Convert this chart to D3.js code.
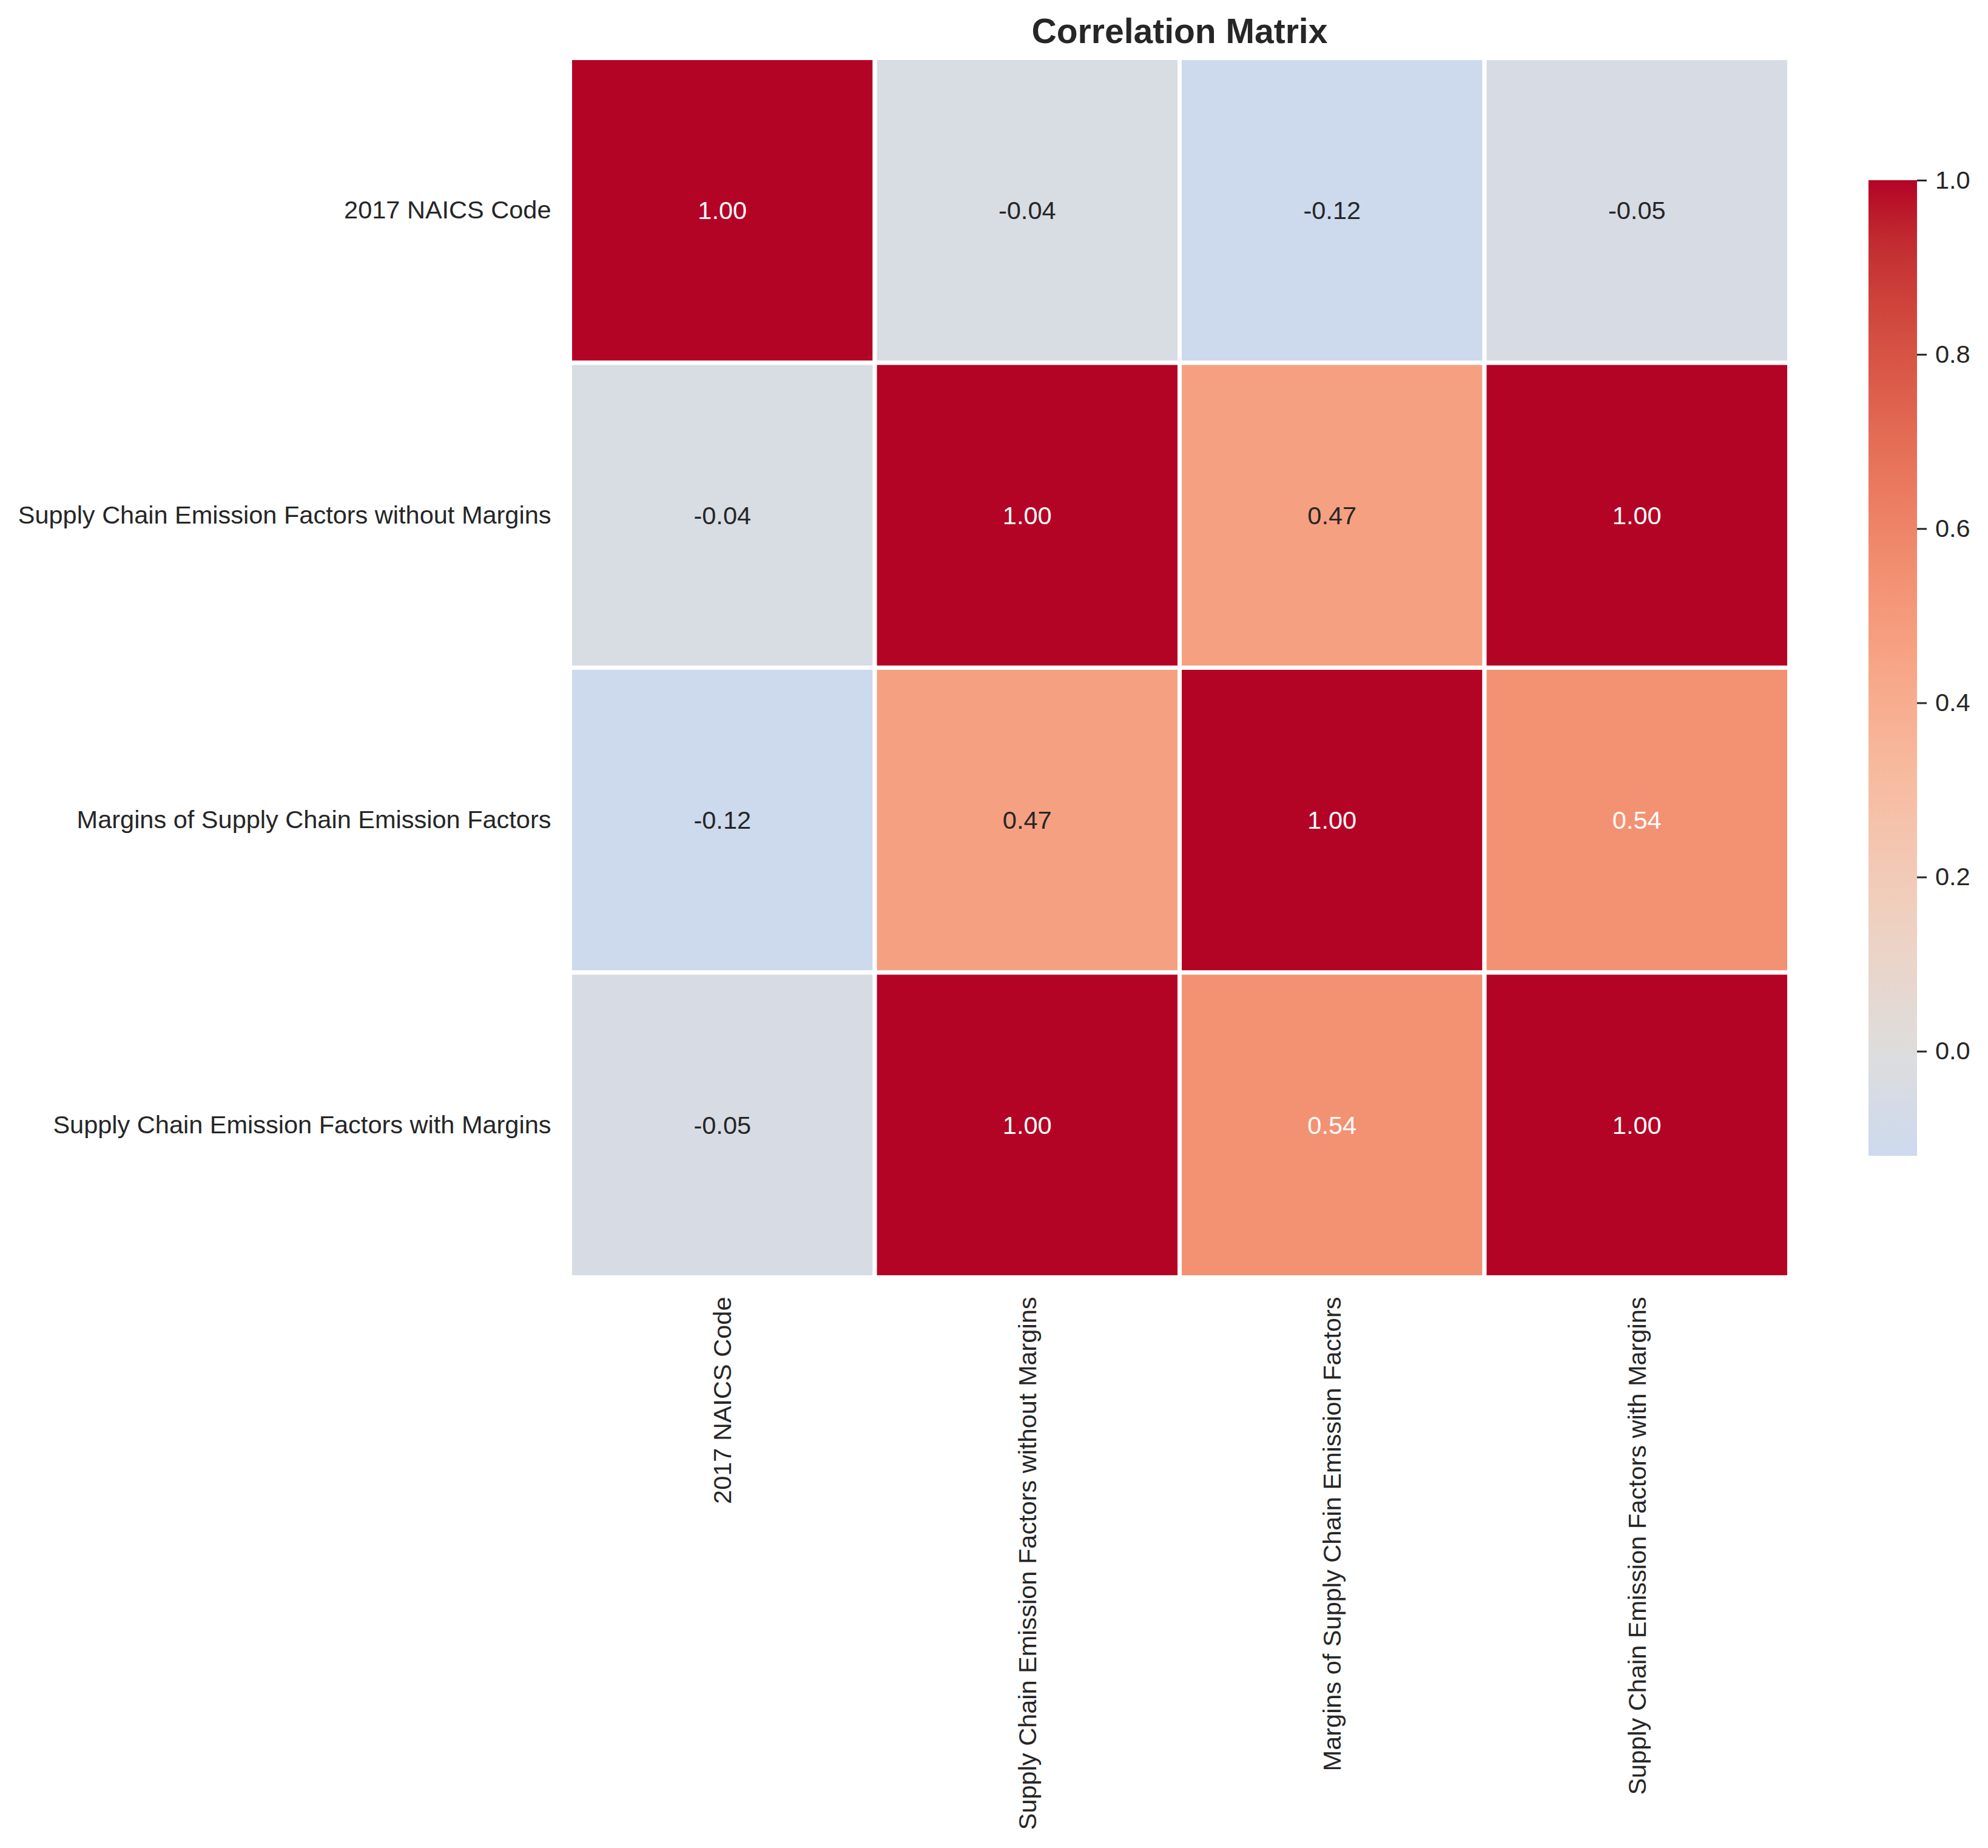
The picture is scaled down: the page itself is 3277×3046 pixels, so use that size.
<!DOCTYPE html>
<html>
<head>
<meta charset="utf-8">
<script src="https://cdn.jsdelivr.net/npm/d3@7"></script>
<style>
  body { margin: 0; background: #fff; }
  text { font-family: "Liberation Sans", Arial, sans-serif; }
</style>
</head>
<body>
<svg id="chart"></svg>
<script>
// variables of the correlation matrix
const labels = [
    '2017 NAICS Code',
    'Supply Chain Emission Factors without Margins',
    'Margins of Supply Chain Emission Factors',
    'Supply Chain Emission Factors with Margins'
];

// correlation rows, same order as labels
const rowNaics   = [1.00, -0.04, -0.12, -0.05];
const rowWithout = [-0.04, 1.00, 0.47, 1.00];
const rowMargins = [-0.12, 0.47, 1.00, 0.54];
const rowWith    = [-0.05, 1.00, 0.54, 1.00];
const matrix = [rowNaics, rowWithout, rowMargins, rowWith];

const cbarTicks = [0.0, 0.2, 0.4, 0.6, 0.8, 1.0];

// matplotlib coolwarm (Moreland table, 33 steps)
const coolwarm = [
    [59,76,192],[68,90,204],[77,104,215],[87,117,225],[98,130,234],[108,142,241],
    [119,154,247],[130,165,251],[141,176,254],[152,185,255],[163,194,255],[174,201,253],
    [184,208,249],[194,213,244],[204,217,238],[213,219,230],[221,221,221],[229,216,209],
    [236,211,197],[241,204,185],[245,196,173],[247,187,160],[247,177,148],[247,166,135],
    [244,154,123],[241,141,111],[236,127,99],[229,112,88],[222,96,77],[213,80,66],
    [203,62,56],[192,40,47],[180,4,38]
];

function cmap(t) {
    t = Math.max(0, Math.min(1, t));
    const p = t * (coolwarm.length - 1);
    const i = Math.min(Math.floor(p), coolwarm.length - 2);
    const f = p - i;
    const a = coolwarm[i], b = coolwarm[i + 1];
    return d3.rgb(a[0] + (b[0] - a[0]) * f, a[1] + (b[1] - a[1]) * f, a[2] + (b[2] - a[2]) * f);
}

// centered at 0 like seaborn center=0
const cells = [];
matrix.forEach((row, i) => row.forEach((v, j) => cells.push({ row: labels[i], col: labels[j], value: v })));
const vmin = d3.min(cells, d => d.value);
const vmax = d3.max(cells, d => d.value);
const half = Math.max(vmax - 0, 0 - vmin);
const color = v => cmap((v + half) / (2 * half));

function luminance(c) {
    const ch = [c.r, c.g, c.b].map(x => {
        x /= 255;
        return x <= 0.03928 ? x / 12.92 : Math.pow((x + 0.055) / 1.055, 2.4);
    });
    return 0.2126 * ch[0] + 0.7152 * ch[1] + 0.0722 * ch[2];
}

const width = 3277;
const height = 3046;
const fontSize = 41.5;
const svg = d3.select('#chart').attr('width', width).attr('height', height);

const x = d3.scaleBand().domain(labels).range([939.5, 2949.5]);
const y = d3.scaleBand().domain(labels).range([95.5, 2105.5]);

// cells
svg.append('g')
    .selectAll('rect')
    .data(cells)
    .enter().append('rect')
    .attr('x', d => x(d.col))
    .attr('y', d => y(d.row))
    .attr('width', x.bandwidth())
    .attr('height', y.bandwidth())
    .attr('fill', d => color(d.value))
    .attr('stroke', '#fff')
    .attr('stroke-width', 7);

// annotations
svg.append('g')
    .selectAll('text')
    .data(cells)
    .enter().append('text')
    .attr('x', d => x(d.col) + x.bandwidth() / 2)
    .attr('y', d => y(d.row) + y.bandwidth() / 2)
    .attr('dy', '0.35em')
    .attr('text-anchor', 'middle')
    .attr('font-size', fontSize)
    .attr('fill', d => luminance(color(d.value)) > 0.408 ? '#262626' : '#ffffff')
    .text(d => d3.format('.2f')(d.value).replace('−', '-'));

// y labels
const yAxis = svg.append('g')
    .attr('transform', 'translate(939.5,0)')
    .call(d3.axisLeft(y).tickSize(0).tickPadding(31));
yAxis.select('.domain').remove();
yAxis.selectAll('text').attr('font-size', fontSize).attr('fill', '#262626')
    .attr('font-family', '"Liberation Sans", Arial, sans-serif');

// x labels, rotated
const xAxis = svg.append('g')
    .attr('transform', 'translate(0,2105.5)')
    .call(d3.axisBottom(x).tickSize(0));
xAxis.select('.domain').remove();
xAxis.selectAll('text')
    .attr('font-size', fontSize).attr('fill', '#262626')
    .attr('font-family', '"Liberation Sans", Arial, sans-serif')
    .attr('text-anchor', 'end')
    .attr('x', -32)
    .attr('y', 0)
    .attr('dy', '0.35em')
    .attr('transform', 'rotate(-90)');

// title
svg.append('text')
    .attr('x', (939.5 + 2949.5) / 2)
    .attr('y', 71)
    .attr('text-anchor', 'middle')
    .attr('font-size', 57)
    .attr('font-weight', 'bold')
    .attr('fill', '#262626')
    .text('Correlation Matrix');

// colorbar
const cb = { x: 3080, w: 80, top: 297, bottom: 1905 };
const cbScale = d3.scaleLinear().domain([vmin, vmax]).range([cb.bottom, cb.top]);

const grad = svg.append('defs').append('linearGradient')
    .attr('id', 'cbar').attr('x1', 0).attr('y1', 1).attr('x2', 0).attr('y2', 0);
d3.range(0, 1.0001, 0.02).forEach(t => {
    grad.append('stop')
        .attr('offset', t)
        .attr('stop-color', color(vmin + (vmax - vmin) * t));
});

svg.append('rect')
    .attr('x', cb.x).attr('y', cb.top)
    .attr('width', cb.w).attr('height', cb.bottom - cb.top)
    .attr('fill', 'url(#cbar)');

const cbAxis = svg.append('g')
    .attr('transform', `translate(${cb.x + cb.w},0)`)
    .call(d3.axisRight(cbScale).tickValues(cbarTicks).tickFormat(d3.format('.1f')).tickSize(16).tickPadding(14));
cbAxis.select('.domain').remove();
cbAxis.selectAll('line').attr('stroke', '#262626').attr('stroke-width', 3);
cbAxis.selectAll('text').attr('font-size', fontSize).attr('fill', '#262626')
    .attr('font-family', '"Liberation Sans", Arial, sans-serif');
</script>
</body>
</html>
